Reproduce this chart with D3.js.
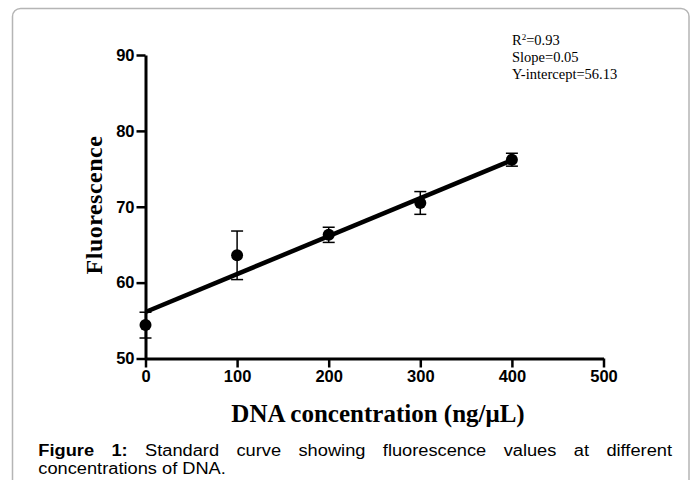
<!DOCTYPE html>
<html>
<head>
<meta charset="utf-8">
<script src="https://cdn.jsdelivr.net/npm/d3@7"></script>
<style>
  body { margin: 0; background: #fff; }
  svg { display: block; }
</style>
</head>
<body>
<div class="container"></div>
<script>
// DATA
const concentrations = [0, 100, 200, 300, 400];
const fluorescence = [54.4, 63.6, 66.3, 70.5, 76.2];
const errors = [1.7, 3.2, 1.0, 1.5, 0.85];
const xTicks = [0, 100, 200, 300, 400, 500];
const yTicks = [50, 60, 70, 80, 90];
const fitSlope = 0.05;
const fitIntercept = 56.13;
const fitRange = [0, 400];
const statsLines = ["=0.93", "Slope=0.05", "Y-intercept=56.13"];
const captionLine1 = ["Standard", "curve", "showing", "fluorescence", "values", "at", "different"];
const captionLine2 = "concentrations of DNA.";

const width = 694;
const height = 480;
const serif = "'Liberation Serif', 'Times New Roman', serif";
const sans = "'Liberation Sans', Arial, sans-serif";

const svg = d3.select(".container")
  .append("svg")
  .attr("width", width)
  .attr("height", height);

// card frame
svg.append("rect")
  .attr("x", 12.5).attr("y", 8.5)
  .attr("width", 676.5).attr("height", 520)
  .attr("rx", 8)
  .attr("fill", "none")
  .attr("stroke", "#b5b5b5")
  .attr("stroke-width", 1.5);

// scales
const xScale = d3.scaleLinear().domain([0, 500]).range([145.5, 603.5]);
const yScale = d3.scaleLinear().domain([50, 90]).range([358.5, 55]);

// axes
const xAxis = svg.append("g")
  .attr("transform", `translate(0,${yScale(50)})`)
  .call(d3.axisBottom(xScale).tickValues(xTicks).tickSize(9).tickSizeOuter(0).tickPadding(3));

const yAxis = svg.append("g")
  .attr("transform", `translate(${xScale(0)},0)`)
  .call(d3.axisLeft(yScale).tickValues(yTicks).tickSize(9).tickSizeOuter(0).tickPadding(2));

[xAxis, yAxis].forEach(ax => {
  ax.select(".domain").attr("stroke", "#000").attr("stroke-width", 3);
  ax.selectAll(".tick line").attr("stroke", "#000").attr("stroke-width", 2.5);
  ax.selectAll(".tick text")
    .attr("fill", "#000")
    .style("font-family", sans)
    .style("font-weight", "bold")
    .style("font-size", "16.5px");
});

// fit line
svg.append("line")
  .attr("x1", xScale(fitRange[0]))
  .attr("y1", yScale(fitIntercept + fitSlope * fitRange[0]))
  .attr("x2", xScale(fitRange[1]))
  .attr("y2", yScale(fitIntercept + fitSlope * fitRange[1]))
  .attr("stroke", "#000")
  .attr("stroke-width", 4.5);

// error bars
const points = concentrations.map((c, i) => ({ x: c, y: fluorescence[i], e: errors[i] }));
const bars = svg.append("g").attr("stroke", "#000").attr("stroke-width", 1.5);
bars.selectAll(".stem").data(points).enter().append("line")
  .attr("x1", d => xScale(d.x)).attr("x2", d => xScale(d.x))
  .attr("y1", d => yScale(d.y - d.e)).attr("y2", d => yScale(d.y + d.e));
bars.selectAll(".capHi").data(points).enter().append("line")
  .attr("x1", d => xScale(d.x) - 6).attr("x2", d => xScale(d.x) + 6)
  .attr("y1", d => yScale(d.y + d.e)).attr("y2", d => yScale(d.y + d.e));
bars.selectAll(".capLo").data(points).enter().append("line")
  .attr("x1", d => xScale(d.x) - 6).attr("x2", d => xScale(d.x) + 6)
  .attr("y1", d => yScale(d.y - d.e)).attr("y2", d => yScale(d.y - d.e));

// points
svg.selectAll("circle").data(points).enter().append("circle")
  .attr("cx", d => xScale(d.x))
  .attr("cy", d => yScale(d.y))
  .attr("r", 6)
  .attr("fill", "#000");

// axis titles
svg.append("text")
  .attr("transform", "translate(101.5,205) rotate(-90)")
  .attr("text-anchor", "middle")
  .style("font-family", serif)
  .style("font-weight", "bold")
  .style("font-size", "24px")
  .style("letter-spacing", "0.5px")
  .text("Fluorescence");

svg.append("text")
  .attr("x", 378).attr("y", 421.5)
  .attr("text-anchor", "middle")
  .style("font-family", serif)
  .style("font-weight", "bold")
  .style("font-size", "25px")
  .text("DNA concentration (ng/\u03BCL)");

// regression stats
const stats = svg.append("g")
  .style("font-family", serif)
  .style("font-size", "14.5px");
const r2 = stats.append("text").attr("x", 512).attr("y", 45);
r2.append("tspan").text("R");
r2.append("tspan").attr("dy", -5).style("font-size", "9px").text("2");
r2.append("tspan").attr("dy", 5).text(statsLines[0]);
stats.append("text").attr("x", 512).attr("y", 62).text(statsLines[1]);
stats.append("text").attr("x", 512).attr("y", 79).text(statsLines[2]);

// caption, first line justified
const capLeft = 38.3, capRight = 672, stretch = 1.14;
const cap = svg.append("g")
  .style("font-family", sans)
  .style("font-size", "16px")
  .attr("fill", "#000");

const words = [{ t: "Figure", b: true }, { t: "1:", b: true }]
  .concat(captionLine1.map(t => ({ t, b: false })));
const nodes = words.map(w => {
  const el = cap.append("text").attr("y", 456)
    .style("font-weight", w.b ? "bold" : "normal")
    .text(w.t);
  const len = el.node().getComputedTextLength() * stretch;
  el.attr("textLength", len).attr("lengthAdjust", "spacingAndGlyphs");
  return { el, len };
});
const total = d3.sum(nodes, n => n.len);
const gap = (capRight - capLeft - total) / (nodes.length - 1);
let cx = capLeft;
nodes.forEach(n => { n.el.attr("x", cx); cx += n.len + gap; });

const l2 = cap.append("text").attr("x", capLeft).attr("y", 474).text(captionLine2);
l2.attr("textLength", l2.node().getComputedTextLength() * stretch)
  .attr("lengthAdjust", "spacingAndGlyphs");
</script>
</body>
</html>
